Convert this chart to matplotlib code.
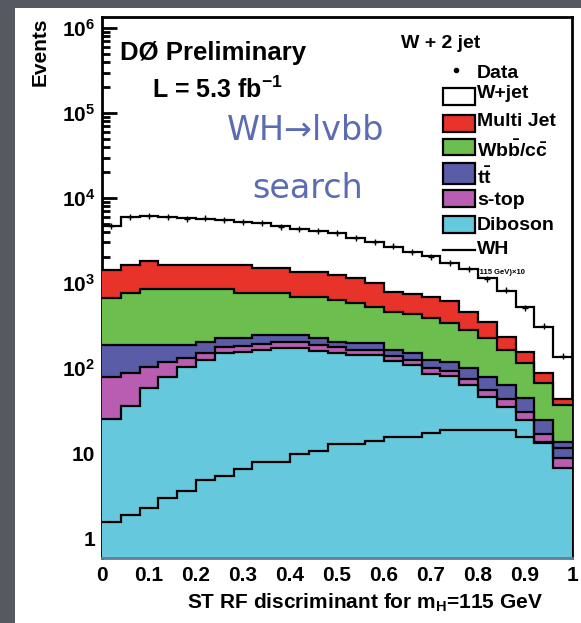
import numpy as np
import matplotlib
matplotlib.use("Agg")
import matplotlib.pyplot as plt
from matplotlib.patches import Rectangle
from matplotlib.lines import Line2D

plt.rcParams['font.family'] = ['Liberation Sans', 'DejaVu Sans']
plt.rcParams['font.weight'] = 'bold'
plt.rcParams['mathtext.fontset'] = 'custom'
plt.rcParams['mathtext.rm'] = 'Liberation Sans:bold'
plt.rcParams['mathtext.it'] = 'Liberation Sans:bold'
plt.rcParams['mathtext.bf'] = 'Liberation Sans:bold'
plt.rcParams['mathtext.default'] = 'rm'

# 25 bins of the ST RF discriminant, events per bin
n_bins = 25
diboson = [25.1, 35.7, 58.2, 78.4, 102.7, 124, 150, 154, 163, 172, 172, 158.5, 150,
           142, 142, 121, 108.5, 85, 80.5, 63, 45.6, 34.8, 24.4, 13.1, 6.7]
stop = [53, 51, 45, 40, 30, 27, 27, 28, 30, 30, 30, 28, 25,
        23, 22, 19, 17, 15, 13, 12, 10, 8, 6, 3.5, 2]
ttbar = [108, 99, 83, 68, 53, 53, 47, 42, 51, 42, 42, 37, 29,
         30, 31, 23, 24.5, 24, 24.5, 24, 23.4, 20, 13.6, 7.8, 4.8]
wbb = [475, 583, 657, 657, 657, 639, 619, 532, 512, 512, 446, 466, 427,
       382, 323, 297, 282, 260, 220, 181, 145, 100, 70, 41.6, 23.2]
multijet = [759, 861, 972, 787, 787, 787, 787, 874, 734, 734, 670, 670, 609,
            568, 492, 330, 310, 300, 276, 180, 126, 70, 41, 21, 6.3]
wjet = [3280, 4350, 4325, 4430, 4190, 4030, 3880, 3660, 3590, 3190, 2960, 2730, 2640,
        2235, 2030, 1860, 1578, 1396, 1106, 1000, 800, 572, 367, 217, 92]
data = [4650, 6000, 6200, 6000, 5700, 5750, 5500, 5200, 5150, 4600, 4350, 4050, 3900,
        3400, 3000, 2700, 2300, 2050, 1700, 1480, 1130, 820, 510, 310, 140]
wh_x10 = [1.56, 1.87, 2.24, 2.93, 3.60, 4.81, 5.36, 6.43, 7.77, 7.77, 9.73, 10.6, 12.8,
          12.8, 14.0, 15.6, 15.6, 17.1, 18.7, 18.7, 18.7, 18.7, 15.6, 13.6, 11.5]

labels = ['Diboson', 's-top', r'$t\bar{t}$', r'Wb$\bar{b}$/c$\bar{c}$', 'Multi Jet', 'W+jet']
colors = ['#66c8dc', '#b85db2', '#5a5ca8', '#6cbf4f', '#e8332b', 'white']

W, H = 581, 623
fig = plt.figure(figsize=(W / 100, H / 100), dpi=100, facecolor='#56595f')

def fx(p):
    return p / W

def fy(p):
    return 1 - p / H

# white paper
fig.add_artist(Rectangle((fx(15), 0), 1 - fx(15), fy(8), transform=fig.transFigure,
                         facecolor='white', edgecolor='none', zorder=0))

ax = fig.add_axes([fx(102), fy(558), fx(572) - fx(102), fy(17) - fy(558)])
ax.set_facecolor('white')
ylo, yhi = 0.582, 1.35e6
ax.set_yscale('log')
ax.set_xlim(0, 1)
ax.set_ylim(ylo, yhi)

edges = np.linspace(0, 1, n_bins + 1)
centers = 0.5 * (edges[:-1] + edges[1:])
stack = np.cumsum([diboson, stop, ttbar, wbb, multijet, wjet], axis=0)

# fills from the top of the stack down, outlines on top
for k in range(4, -1, -1):
    ax.stairs(stack[k], edges, baseline=ylo, fill=True, color=colors[k], zorder=2 + (4 - k) * 0.01)
for k in range(5, -1, -1):
    ax.stairs(stack[k], edges, baseline=None, color='black', lw=1.6, zorder=3)

ax.stairs(wh_x10, edges, baseline=None, color='black', lw=1.6, zorder=3.1)
ax.plot(centers, data, '+', color='black', ms=5, mew=1.0, zorder=3.2)

# axes look: frame sits under the filled histograms
ax.set_axisbelow(True)
for s in ['left', 'top', 'right']:
    ax.spines[s].set_zorder(0.5)
    ax.spines[s].set_linewidth(2)
ax.spines['bottom'].set_color('#5f7f98')
ax.spines['bottom'].set_linewidth(2)
ax.spines['bottom'].set_zorder(4)
ax.spines['right'].set_color('black')

ax.yaxis.set_major_locator(matplotlib.ticker.FixedLocator([1, 10, 1e2, 1e3, 1e4, 1e5, 1e6]))
ax.set_yticklabels(['1', '10', '$10^{2}$', '$10^{3}$', '$10^{4}$', '$10^{5}$', '$10^{6}$'])
ax.yaxis.set_minor_locator(matplotlib.ticker.LogLocator(base=10, subs=np.arange(2, 10), numticks=20))
ax.yaxis.set_minor_formatter(matplotlib.ticker.NullFormatter())
ax.tick_params(axis='y', which='major', direction='in', length=11, width=2, labelsize=15, pad=5)
ax.tick_params(axis='y', which='minor', direction='in', length=6, width=2)
ax.set_xticks(np.arange(0, 1.01, 0.1))
ax.set_xticklabels(['0', '0.1', '0.2', '0.3', '0.4', '0.5', '0.6', '0.7', '0.8', '0.9', '1'])
ax.tick_params(axis='x', length=0, labelsize=15, pad=6)

fig.text(fx(365), fy(603), r'ST RF discriminant for m$_{H}$=115 GeV', ha='center', va='center',
         fontsize=15, fontweight='bold')
fig.text(fx(40), fy(18), 'Events', rotation=90, ha='center', va='top', fontsize=15, fontweight='bold')

# labels inside the plot
fig.text(fx(120), fy(53), 'DØ Preliminary', ha='left', va='center', fontsize=18.5, fontweight='bold')
fig.text(fx(152), fy(90), r'L = 5.3 fb$^{-1}$', ha='left', va='center', fontsize=18, fontweight='bold')
fig.text(fx(227), fy(130), 'WH→lvbb', ha='left', va='center', fontsize=24, fontweight='normal',
         color='#5a6cb2', family='DejaVu Sans')
fig.text(fx(252), fy(188), 'search', ha='left', va='center', fontsize=24, fontweight='normal',
         color='#5a6cb2', family='DejaVu Sans')
fig.text(fx(441), fy(43), 'W + 2 jet', ha='center', va='center', fontsize=14, fontweight='bold')

# legend, drawn by hand
fig.add_artist(Line2D([fx(456)], [fy(70)], marker='o', ms=3, color='black', transform=fig.transFigure))
fig.text(fx(477), fy(74), 'Data', ha='left', va='center', fontsize=14)
boxes = [(216, 233), (190, 207), (163, 184), (139, 155), (115, 132), (88, 105)]
texts_y = [225, 200, 177, 150, 122, 94]
for k in range(6):
    top, bot = boxes[k]
    fig.add_artist(Rectangle((fx(443), fy(bot)), fx(475) - fx(443), fy(top) - fy(bot),
                             transform=fig.transFigure, facecolor=colors[k], edgecolor='black', lw=1.6))
    fig.text(fx(477), fy(texts_y[k]), labels[k], ha='left', va='center', fontsize=14)
fig.add_artist(Line2D([fx(443), fx(475)], [fy(250), fy(250)], color='black', lw=1.6,
                      transform=fig.transFigure))
fig.text(fx(477), fy(250), 'WH', ha='left', va='center', fontsize=14)
fig.text(fx(477), fy(272), '(115 GeV)×10', ha='left', va='center', fontsize=5.5)

fig.savefig('out.png', dpi=100, facecolor=fig.get_facecolor())
